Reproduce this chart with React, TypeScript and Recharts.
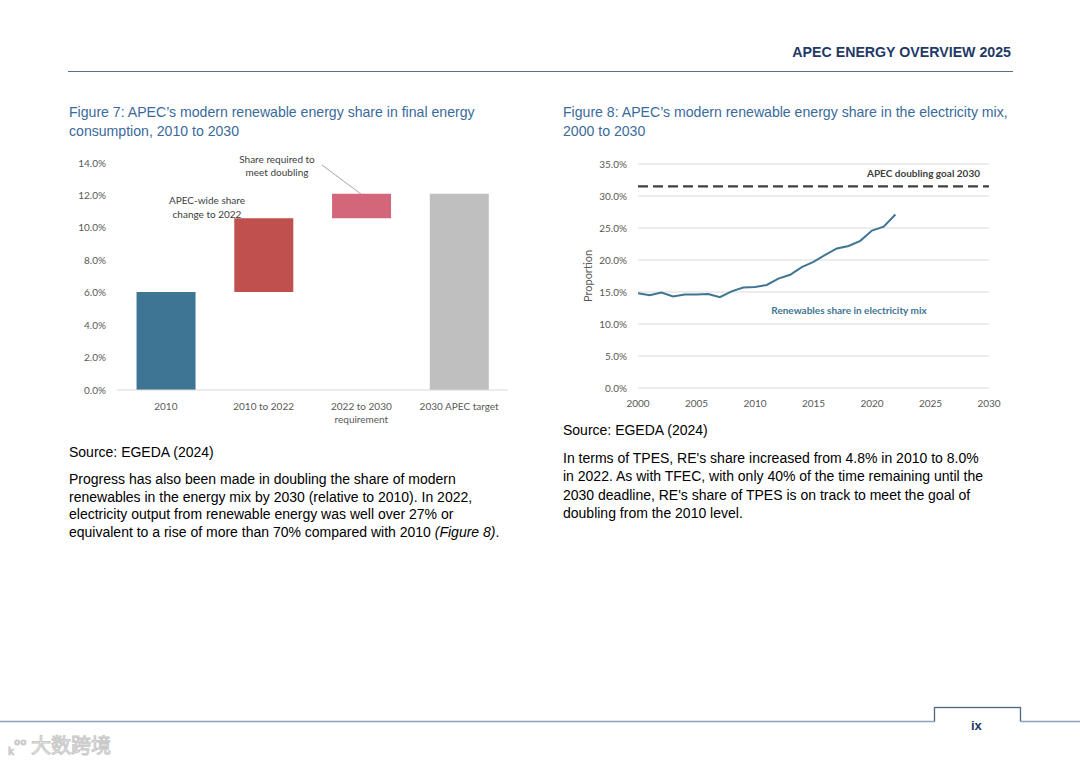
import React from 'react';
import {
  BarChart, Bar, XAxis, YAxis, Cell, LineChart, Line, CartesianGrid, ReferenceLine,
} from 'recharts';

// ---- Figure 7 data (waterfall) ----
const wfCategories = ['2010', '2010 to 2022', '2022 to 2030\nrequirement', '2030 APEC target'];
const wfBase = [0, 6.05, 10.6, 0];
const wfValue = [6.05, 4.55, 1.5, 12.1];
const wfColors = ['#3E7594', '#C0504D', '#D4667A', '#BFBFBF'];
const wfTicks = [0, 2, 4, 6, 8, 10, 12, 14];

// ---- Figure 8 data (line) ----
const years = [2000, 2001, 2002, 2003, 2004, 2005, 2006, 2007, 2008, 2009, 2010, 2011,
  2012, 2013, 2014, 2015, 2016, 2017, 2018, 2019, 2020, 2021, 2022];
const reShare = [14.8, 14.5, 14.9, 14.3, 14.6, 14.6, 14.7, 14.2, 15.1, 15.7, 15.8, 16.1,
  17.1, 17.7, 18.9, 19.7, 20.8, 21.8, 22.2, 23.0, 24.6, 25.2, 27.1];
const goal2030 = 31.5;
const lineYTicks = [0, 5, 10, 15, 20, 25, 30, 35];
const lineXTicks = [2000, 2005, 2010, 2015, 2020, 2025, 2030];

const wfData = wfCategories.map((c, i) => ({ name: c, base: wfBase[i], value: wfValue[i] }));
const lineData = years.map((y, i) => ({ year: y, share: reShare[i] }));

const chartFont = 'Lato, "Open Sans", sans-serif';
const tickColor = '#595959';
const pageFont = '"Liberation Sans", Arial, sans-serif';
const titleColor = '#3A6A9C';

const pct = (v: number) => `${v.toFixed(1)}%`;

const MultiLineTick = (props: any) => {
  const { x, y, payload } = props;
  const lines = String(payload.value).split('\n');
  return (
    <text x={x} y={y} textAnchor="middle" fill={tickColor} fontSize={10} fontFamily={chartFont}>
      {lines.map((l, i) => (
        <tspan key={i} x={x} dy={i === 0 ? 12 : 13}>{l}</tspan>
      ))}
    </text>
  );
};

export default function App() {
  return (
    <div style={{ position: 'absolute', left: 0, top: 0, width: 1080, height: 764, background: '#fff', overflow: 'hidden', fontFamily: pageFont }}>
      {/* Header */}
      <div style={{ position: 'absolute', right: 69, top: 44, fontSize: 14.2, fontWeight: 'bold', color: '#1F3A66', whiteSpace: 'nowrap' }}>
        APEC ENERGY OVERVIEW 2025
      </div>
      <div style={{ position: 'absolute', left: 68, top: 71, width: 945, height: 1, background: '#5A6E86' }} />

      {/* Figure titles */}
      <div style={{ position: 'absolute', left: 69, top: 103, fontSize: 14.1, lineHeight: '19px', color: titleColor, whiteSpace: 'nowrap' }}>
        Figure 7: APEC’s modern renewable energy share in final energy<br />consumption, 2010 to 2030
      </div>
      <div style={{ position: 'absolute', left: 563, top: 103, fontSize: 14.1, lineHeight: '19px', color: titleColor, whiteSpace: 'nowrap' }}>
        Figure 8: APEC’s modern renewable energy share in the electricity mix,<br />2000 to 2030
      </div>

      {/* Figure 7 chart */}
      <div style={{ position: 'absolute', left: 60, top: 140 }}>
        <BarChart width={460} height={290} data={wfData} margin={{ top: 23, right: 12, left: 0, bottom: 0 }} barCategoryGap="20%">
          <YAxis
            domain={[0, 14]}
            ticks={wfTicks}
            tickFormatter={pct}
            axisLine={false}
            tickLine={false}
            width={57}
            tickMargin={5}
            tick={{ fill: tickColor, fontSize: 10, fontFamily: chartFont }}
          />
          <XAxis
            dataKey="name"
            axisLine={{ stroke: '#D9D9D9' }}
            tickLine={false}
            height={40}
            interval={0}
            tick={<MultiLineTick />}
          />
          <Bar dataKey="base" stackId="w" fill="transparent" isAnimationActive={false} />
          <Bar dataKey="value" stackId="w" isAnimationActive={false}>
            {wfData.map((d, i) => <Cell key={d.name} fill={wfColors[i]} />)}
          </Bar>
        </BarChart>
      </div>

      {/* Figure 8 chart */}
      <div style={{ position: 'absolute', left: 560, top: 140 }}>
        <LineChart width={450} height={278} data={lineData} margin={{ top: 24, right: 21, left: 18, bottom: 0 }}>
          <CartesianGrid vertical={false} stroke="#D9D9D9" />
          <XAxis
            dataKey="year"
            type="number"
            domain={[2000, 2030]}
            ticks={lineXTicks}
            axisLine={false}
            tickLine={false}
            height={30}
            tickMargin={6}
            tick={{ fill: tickColor, fontSize: 10, fontFamily: chartFont }}
          />
          <YAxis
            domain={[0, 35]}
            ticks={lineYTicks}
            tickFormatter={pct}
            axisLine={false}
            tickLine={false}
            width={60}
            tickMargin={5}
            tick={{ fill: tickColor, fontSize: 10, fontFamily: chartFont }}
            label={{ value: 'Proportion', angle: -90, position: 'insideLeft', offset: 10, style: { textAnchor: 'middle', fill: tickColor, fontSize: 11, fontFamily: chartFont } }}
          />
          <ReferenceLine
            y={goal2030}
            stroke="#404040"
            strokeWidth={2.2}
            strokeDasharray="10 5"
            label={{ value: 'APEC doubling goal 2030', position: 'insideBottomRight', offset: 9, style: { fill: '#404040', fontSize: 10, fontWeight: 'bold', fontFamily: chartFont } }}
          />
          <Line type="linear" dataKey="share" stroke="#3F7592" strokeWidth={2} dot={false} isAnimationActive={false} />
        </LineChart>
      </div>

      {/* Chart annotations */}
      <svg style={{ position: 'absolute', left: 0, top: 0, pointerEvents: 'none' }} width={1080} height={764}>
        <g fontFamily={chartFont} fontSize={10} fill="#404040" textAnchor="middle">
          <text x={207} y={203.5}>APEC-wide share</text>
          <text x={207} y={217.5}>change to 2022</text>
          <text x={277} y={162.5}>Share required to</text>
          <text x={277} y={176}>meet doubling</text>
        </g>
        <line x1={322} y1={165} x2={361} y2={194} stroke="#A6A6A6" strokeWidth={1} />
        <text x={849} y={313.5} textAnchor="middle" fontFamily={chartFont} fontSize={10} fontWeight="bold" fill="#3F7592">
          Renewables share in electricity mix
        </text>
      </svg>

      {/* Sources and paragraphs */}
      <div style={{ position: 'absolute', left: 69, top: 444, fontSize: 14, color: '#000', whiteSpace: 'nowrap' }}>Source: EGEDA (2024)</div>
      <div style={{ position: 'absolute', left: 69, top: 471, fontSize: 14, lineHeight: '17.6px', color: '#000', whiteSpace: 'nowrap' }}>
        Progress has also been made in doubling the share of modern<br />
        renewables in the energy mix by 2030 (relative to 2010). In 2022,<br />
        electricity output from renewable energy was well over 27% or<br />
        equivalent to a rise of more than 70% compared with 2010 <i>(Figure 8)</i>.
      </div>

      <div style={{ position: 'absolute', left: 563, top: 422, fontSize: 14, color: '#000', whiteSpace: 'nowrap' }}>Source: EGEDA (2024)</div>
      <div style={{ position: 'absolute', left: 563, top: 449, fontSize: 14, lineHeight: '18.4px', color: '#000', whiteSpace: 'nowrap' }}>
        In terms of TPES, RE's share increased from 4.8% in 2010 to 8.0%<br />
        in 2022. As with TFEC, with only 40% of the time remaining until the<br />
        2030 deadline, RE's share of TPES is on track to meet the goal of<br />
        doubling from the 2010 level.
      </div>

      {/* Footer */}
      <svg style={{ position: 'absolute', left: 0, top: 0, pointerEvents: 'none' }} width={1080} height={764}>
        <polyline points="0,721.5 934.5,721.5 934.5,707.5 1020.5,707.5 1020.5,721.5 1080,721.5" fill="none" stroke="#8EA3BA" strokeWidth={1.5} />
        <polyline points="934.5,721 934.5,707.5 1020.5,707.5 1020.5,721" fill="none" stroke="#4E6580" strokeWidth={1} />
      </svg>
      <div style={{ position: 'absolute', left: 971, top: 718, fontSize: 13, fontWeight: 'bold', color: '#1F3A66' }}>ix</div>
      <div style={{ position: 'absolute', left: 8, top: 730, fontSize: 20, color: '#F2F2F2', WebkitTextStroke: '1px #C8C8C8', fontFamily: '"Noto Sans CJK SC", sans-serif', whiteSpace: 'nowrap' }}>
        <span style={{ fontSize: 17 }}>ₖ°°</span> 大数跨境
      </div>
    </div>
  );
}
